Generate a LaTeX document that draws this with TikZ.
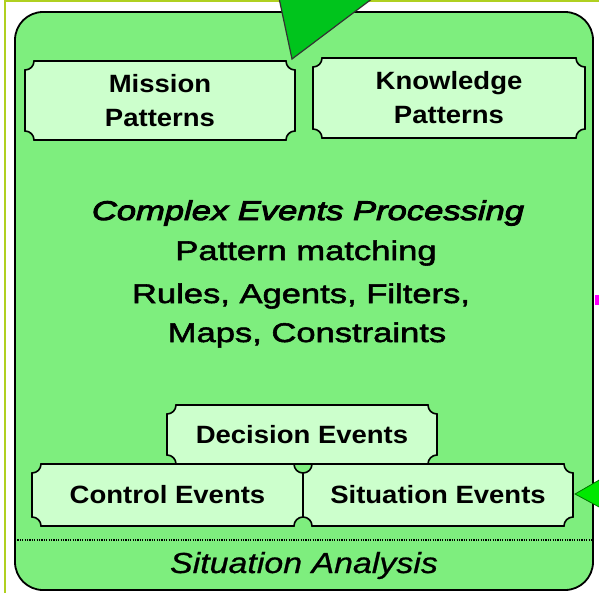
\documentclass[tikz,border=0pt]{standalone}
\usepackage{fontspec}
\setmainfont{Liberation Sans}
\newfontfamily\lblfont[FakeStretch=1.1]{Liberation Sans}
\newfontfamily\cenfont[FakeStretch=1.28, FakeBold=2]{Liberation Sans}
\newfontfamily\cepfont[FakeStretch=1.28, FakeBold=3.5]{Liberation Sans}
\newfontfamily\safont[FakeStretch=1.17, FakeBold=0.8]{Liberation Sans}
\definecolor{framecol}{RGB}{176,208,32}
\definecolor{mainfill}{RGB}{126,238,126}
\definecolor{plaquefill}{RGB}{204,255,204}
\definecolor{trigreen}{RGB}{0,196,28}
\definecolor{trigreenb}{RGB}{0,232,0}
\definecolor{magentamark}{RGB}{255,0,255}
\tikzset{
  mainbox/.style={draw=black, line width=1.8pt, fill=mainfill, rounded corners=28pt, inner sep=0pt, outer sep=0pt},
  plaque/.style={draw=black, line width=1.6pt, fill=plaquefill},
  plaquetext/.style={align=center, inner sep=0pt, font=\lblfont\bfseries\fontsize{25}{34}\selectfont},
  centext/.style={anchor=base, inner sep=0pt, font=\cenfont\fontsize{27}{32}\selectfont},
  ceptext/.style={anchor=base, inner sep=0pt, font=\cepfont\itshape\fontsize{27}{32}\selectfont},
  satext/.style={anchor=base, inner sep=0pt, font=\safont\itshape\fontsize{29}{34}\selectfont},
  dotline/.style={draw=black, line width=2pt, dash pattern=on 1.2pt off 1.2pt},
  frameline/.style={draw=framecol, line width=2.2pt},
}
\newcommand{\plaquebox}[6]{%
  \draw[plaque] ({#2},{#3+9}) .. controls ({#2+5},{#3+9}) and ({#2+9},{#3+5}) .. ({#2+9},{#3})
    -- ({#4-9},{#3}) .. controls ({#4-9},{#3+5}) and ({#4-5},{#3+9}) .. ({#4},{#3+9})
    -- ({#4},{#5-9}) .. controls ({#4-5},{#5-9}) and ({#4-9},{#5-5}) .. ({#4-9},{#5})
    -- ({#2+9},{#5}) .. controls ({#2+9},{#5-5}) and ({#2+5},{#5-9}) .. ({#2},{#5-9}) -- cycle;
  \node[plaquetext] (#1) at ({(#2+#4)/2},{(#3+#5)/2}) {#6};
}
\begin{document}
\begin{tikzpicture}[x=1pt, y=-1pt]
\useasboundingbox (0,0) rectangle (599,592);
\fill[white] (0,0) rectangle (599,592);
\begin{scope}
\clip (0,0) rectangle (599,592);
% frame lines
\coordinate (fTL) at (5,1);
\coordinate (fTR) at (600,1);
\coordinate (fBL) at (5,593);
\draw[frameline] (fTR) -- (fTL) -- (fBL);
% main box
\node[mainbox, minimum width=578pt, minimum height=578pt] (sa) at (304,301) {};
% top arrowhead
\coordinate (t1) at (279,-2);
\coordinate (t2) at (292,59);
\coordinate (t3) at (373,-2);
\fill[trigreen] (t1) -- (t2) -- (t3) -- cycle;
\draw[black!80, line width=1.2pt] (t1) -- (t2) -- (t3);
% right arrowhead
\coordinate (r1) at (601,479);
\coordinate (r2) at (575,494);
\coordinate (r3) at (601,508);
\fill[trigreenb] (r1) -- (r2) -- (r3) -- cycle;
\draw[green!45!black, line width=0.8pt] (r1) -- (r2) -- (r3);
% magenta mark
\fill[magentamark] (595,295) rectangle (600,305);
\end{scope}
% plaques
\plaquebox{mission}{25}{61}{295}{140}{Mission\\Patterns}
\plaquebox{knowledge}{313}{58}{585}{138}{Knowledge\\Patterns}
\plaquebox{decision}{167}{405}{437}{464}{Decision Events}
\plaquebox{control}{32}{464}{303}{526}{Control Events}
\plaquebox{situation}{303}{464}{573}{526}{Situation Events}
% central text
\node[ceptext] (cep) at (308,220) {Complex Events Processing};
\node[centext] (pm) at (306,260) {Pattern matching};
\node[centext] (raf) at (301,303) {Rules, Agents, Filters,};
\node[centext] (mc) at (307,342) {Maps, Constraints};
% divider
\coordinate (d1) at (15,540);
\coordinate (d2) at (593,540);
\draw[dotline] (d1) -- (d2);
\node[satext] (satitle) at (304,573) {Situation Analysis};
\end{tikzpicture}
\end{document}
